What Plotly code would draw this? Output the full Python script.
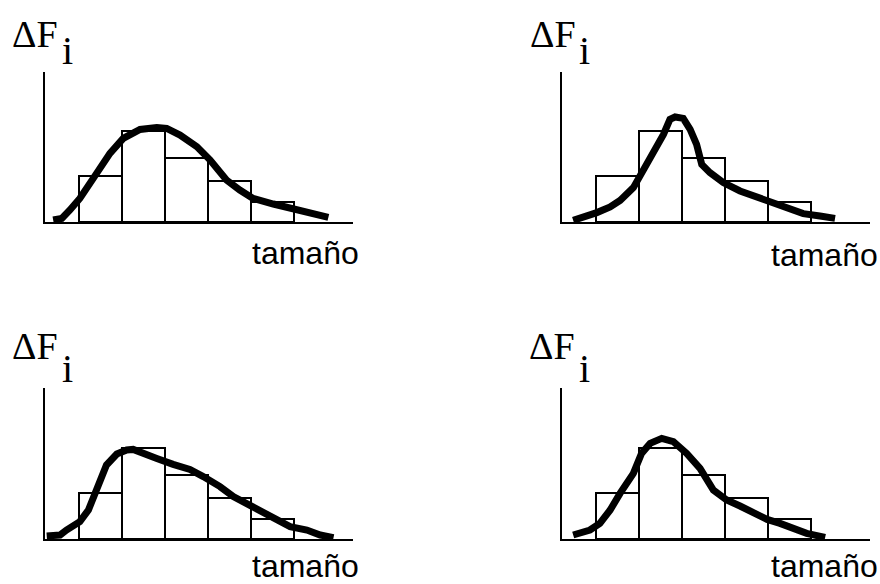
import plotly.graph_objects as go

W, H = 880, 584

# Histogram classes (same for all four panels)
bordes = [0.8, 1.8, 2.8, 3.8, 4.8, 5.8]
frecuencias = [2.3, 4.55, 3.2, 2.05, 1.0]

# Smoothed distributions drawn over each histogram
curva1_x = [0.19, 0.39, 0.58, 0.81, 1.20, 1.51, 1.82, 2.21, 2.60, 2.83, 3.14, 3.53, 3.84, 4.22, 4.53, 4.84, 5.31, 5.77, 6.59]
curva1_y = [0.10, 0.18, 0.60, 1.18, 2.43, 3.43, 4.18, 4.63, 4.73, 4.68, 4.35, 3.77, 3.10, 2.10, 1.60, 1.18, 0.90, 0.63, 0.23]

curva2_x = [0.26, 0.50, 0.81, 1.12, 1.35, 1.66, 1.89, 2.12, 2.36, 2.51, 2.63, 2.82, 2.98, 3.13, 3.25, 3.44, 3.75, 4.14, 4.45, 4.84, 5.23, 5.61, 6.00, 6.35]
curva2_y = [0.08, 0.22, 0.47, 0.75, 1.08, 1.72, 2.55, 3.38, 4.38, 5.13, 5.25, 5.18, 4.63, 3.88, 2.88, 2.47, 1.97, 1.55, 1.30, 0.97, 0.68, 0.42, 0.30, 0.18]

curva3_x = [0.04, 0.35, 0.50, 0.81, 1.01, 1.20, 1.43, 1.67, 1.90, 2.05, 2.29, 2.60, 2.98, 3.37, 3.68, 4.07, 4.38, 4.84, 5.31, 5.70, 6.09, 6.40, 6.71]
curva3_y = [0.15, 0.20, 0.45, 0.87, 1.45, 2.45, 3.70, 4.25, 4.45, 4.48, 4.32, 4.03, 3.73, 3.48, 3.12, 2.62, 2.12, 1.62, 1.12, 0.62, 0.45, 0.20, 0.07]

curva4_x = [0.26, 0.65, 0.88, 1.12, 1.35, 1.66, 1.85, 2.05, 2.32, 2.59, 2.90, 3.21, 3.52, 3.83, 4.14, 4.45, 4.77, 5.07, 5.38, 5.69, 6.12]
curva4_y = [0.20, 0.45, 0.78, 1.45, 2.28, 3.28, 4.28, 4.78, 5.03, 4.87, 4.28, 3.53, 2.45, 1.95, 1.65, 1.33, 0.98, 0.78, 0.53, 0.28, 0.08]

curvas = [(curva1_x, curva1_y), (curva2_x, curva2_y), (curva3_x, curva3_y), (curva4_x, curva4_y)]

etiqueta_y = "ΔF"
subindice = "i"
etiqueta_x = "tamaño"

# Panel frames in pixels: (left, right, top, bottom)
paneles = [
    (45, 353, 72, 222),
    (562, 870, 72, 222),
    (45, 353, 388, 539),
    (562, 870, 388, 539),
]

def fx(px):
    return px / W

def fy(py):
    return 1 - py / H

fig = go.Figure()
centros = [(a + b) / 2 for a, b in zip(bordes[:-1], bordes[1:])]
anchos = [b - a for a, b in zip(bordes[:-1], bordes[1:])]

for i, ((l, r, t, b), (cx, cy)) in enumerate(zip(paneles, curvas)):
    n = "" if i == 0 else str(i + 1)
    xa, ya = "x" + n, "y" + n
    fig.add_trace(go.Bar(
        x=centros, y=frecuencias, width=anchos,
        marker=dict(color="white", line=dict(color="black", width=2)),
        xaxis=xa, yaxis=ya, showlegend=False, hoverinfo="skip",
    ))
    fig.add_trace(go.Scatter(
        x=cx, y=cy, mode="lines",
        line=dict(color="black", width=7),
        xaxis=xa, yaxis=ya, showlegend=False, cliponaxis=False, hoverinfo="skip",
    ))
    ax = dict(
        domain=[fx(l), fx(r)], range=[0, (r - l) / 43.0],
        showline=True, linecolor="black", linewidth=2,
        showgrid=False, zeroline=False, showticklabels=False, ticks="",
        layer="above traces", fixedrange=True,
    )
    ay = dict(
        domain=[fy(b), fy(t)], range=[0, (b - t) / 20.0],
        showline=True, linecolor="black", linewidth=2,
        showgrid=False, zeroline=False, showticklabels=False, ticks="",
        layer="above traces", fixedrange=True,
    )
    if i > 0:
        ax["anchor"] = ya
        ay["anchor"] = xa
    fig.update_layout(**{"xaxis" + n: ax, "yaxis" + n: ay})

# Axis labels for each panel
serif = "Liberation Serif, Times New Roman, serif"
sans = "Liberation Sans, Arial, sans-serif"
etiquetas = [
    # (ΔF left, ΔF center y, i left, i center y, tamaño right, tamaño center y or None = bottom edge)
    (10, 34, 60, 51, 361, 253),
    (528, 34, 577, 51, 880, 255),
    (10, 346, 60, 368, 361, None),
    (527, 346, 577, 368, 880, None),
]
anots = []
for (dx, dy, ix, iy, tx, ty) in etiquetas:
    anots.append(dict(text=etiqueta_y, x=fx(dx), y=fy(dy), xref="paper", yref="paper",
                      xanchor="left", yanchor="middle", showarrow=False,
                      font=dict(family=serif, size=38, color="black")))
    anots.append(dict(text=subindice, x=fx(ix), y=fy(iy), xref="paper", yref="paper",
                      xanchor="left", yanchor="middle", showarrow=False,
                      font=dict(family=serif, size=40, color="black")))
    if ty is None:
        anots.append(dict(text=etiqueta_x, x=fx(tx), y=0, xref="paper", yref="paper",
                          xanchor="right", yanchor="bottom", showarrow=False, yshift=-2,
                          font=dict(family=sans, size=32, color="black")))
    else:
        anots.append(dict(text=etiqueta_x, x=fx(tx), y=fy(ty), xref="paper", yref="paper",
                          xanchor="right", yanchor="middle", showarrow=False,
                          font=dict(family=sans, size=32, color="black")))

fig.update_layout(
    width=W, height=H,
    margin=dict(l=0, r=0, t=0, b=0),
    paper_bgcolor="white", plot_bgcolor="white",
    barmode="overlay", bargap=0,
    annotations=anots,
)

fig.write_html("out.html", config={"displayModeBar": False})
